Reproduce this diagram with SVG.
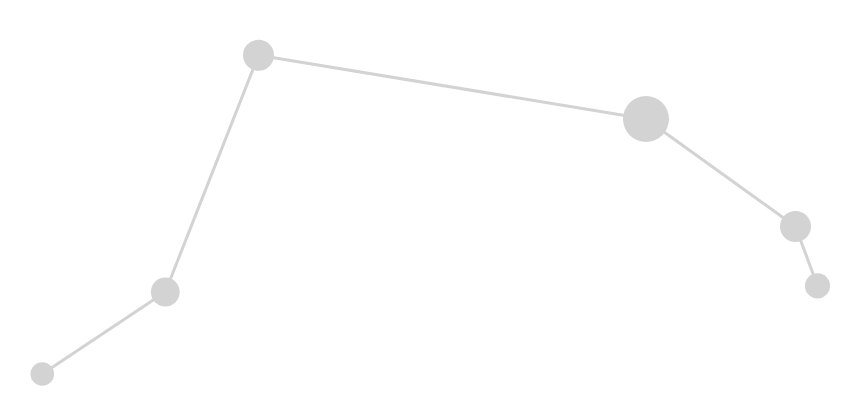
<svg xmlns="http://www.w3.org/2000/svg" width="860" height="412" viewBox="0 0 860 412">
<style>
.link{stroke:#d3d3d3;stroke-width:3;fill:none}
.node{fill:#d3d3d3}
</style>
<rect width="860" height="412" fill="#ffffff"/>
<g id="connectors">
<line class="link" x1="42.3" y1="374" x2="165.3" y2="292"/>
<line class="link" x1="165.3" y1="292" x2="258.5" y2="55.3"/>
<line class="link" x1="258.5" y1="55.3" x2="646" y2="119"/>
<line class="link" x1="646" y1="119" x2="795.5" y2="226.5"/>
<line class="link" x1="795.5" y1="226.5" x2="817.5" y2="285.8"/>
</g>
<g id="n1"><circle class="node" cx="258.5" cy="55.3" r="15.5"/></g>
<g id="n2"><circle class="node" cx="646" cy="119" r="23"/></g>
<g id="n3"><circle class="node" cx="795.5" cy="226.5" r="15.5"/></g>
<g id="n4"><circle class="node" cx="817.5" cy="285.8" r="12.6"/></g>
<g id="n5"><circle class="node" cx="165.3" cy="292" r="14.4"/></g>
<g id="n6"><circle class="node" cx="42.3" cy="374" r="11.8"/></g>
</svg>
